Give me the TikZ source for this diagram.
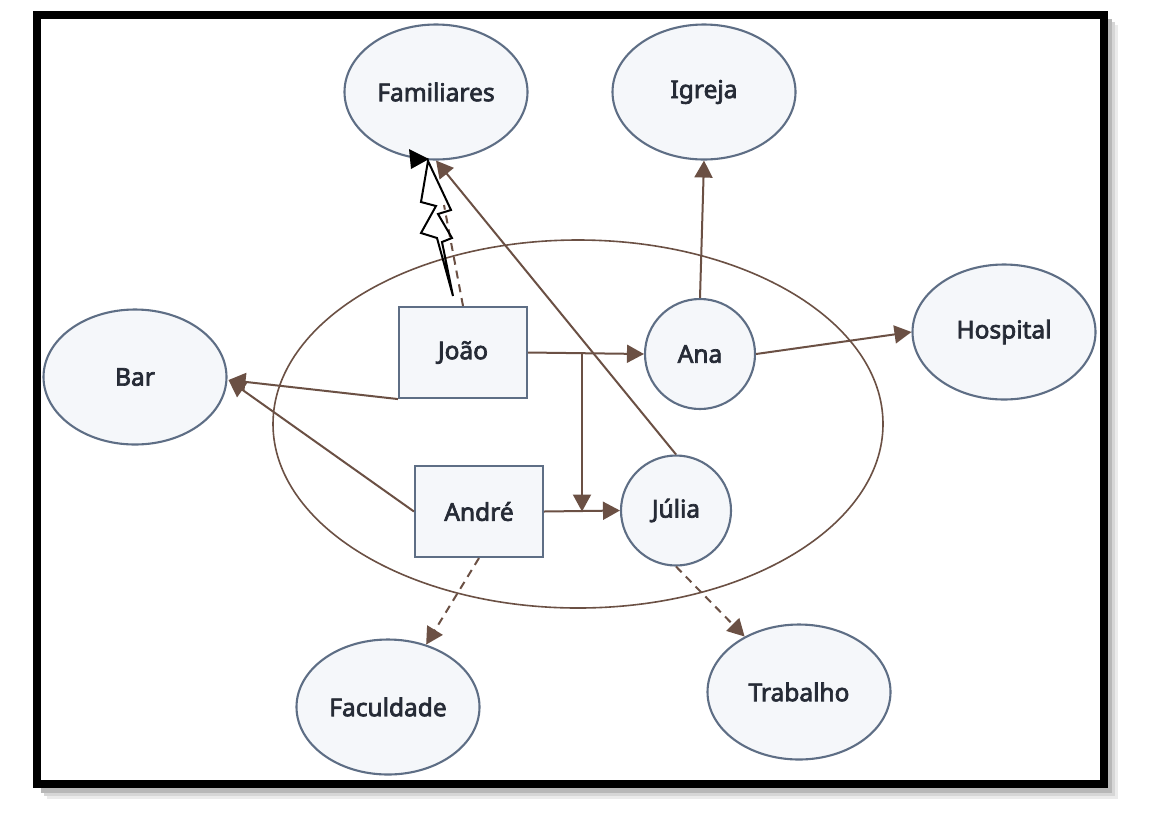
\documentclass[tikz,border=0pt]{standalone}
\usepackage{fontspec}
\newfontfamily\lbl{Noto Sans}
\newcommand\heavytext[1]{\special{pdf:literal direct 2 Tr 0.7 w}#1\special{pdf:literal direct 0 Tr}}
\usetikzlibrary{arrows.meta,shapes.geometric,calc}
\definecolor{conn}{HTML}{6B5044}
\definecolor{nborder}{HTML}{5E6E85}
\definecolor{nfill}{HTML}{F5F7FA}
\definecolor{ntext}{HTML}{262B36}
\tikzset{
  lbltext/.style={font=\lbl\fontsize{24.5}{28}\selectfont, text=ntext},
  place/.style={ellipse, draw=nborder, fill=nfill, line width=2.1pt,
    minimum width=183pt, minimum height=135pt, inner sep=0pt, lbltext},
  person/.style={circle, draw=nborder, fill=nfill, line width=2.1pt,
    minimum size=110pt, inner sep=0pt, lbltext},
  agent/.style={rectangle, draw=nborder, fill=nfill, line width=2.1pt,
    minimum width=128pt, minimum height=91pt, inner sep=0pt, lbltext},
  link/.style={draw=conn, line width=2pt, -{Triangle[length=17pt,width=18pt]}},
  weak/.style={link, dash pattern=on 8pt off 6pt},
  boltline/.style={draw=black, line width=2pt, line join=miter},
}
\begin{document}
\begin{tikzpicture}[x=1pt,y=-1pt]
\useasboundingbox (0,0) rectangle (1166,812);
% frame with shadow
\fill[black!8] (47,25) rectangle (1118,799);
\fill[black!16] (44,22) rectangle (1115,796);
\fill[black!28] (41,19) rectangle (1112,793);
\fill[white] (33,11) rectangle (1108,788);
\draw[line width=8pt] (37,15) rectangle (1104,784);

% group ellipse
\node[ellipse, draw=conn, line width=1.6pt, minimum width=610pt, minimum height=368pt, inner sep=0pt] (grupo) at (578,424) {};

% nodes
\node[place] (familiares) at (436,92) {\heavytext{Familiares}};
\node[place] (igreja) at (704,92) {\heavytext{Igreja}};
\node[place] (hospital) at (1004,332) {\heavytext{Hospital}};
\node[place] (bar) at (135,377) {\heavytext{Bar}};
\node[place] (faculdade) at (388,707) {\heavytext{Faculdade}};
\node[place] (trabalho) at (799,692) {\heavytext{Trabalho}};
\node[agent] (joao) at (463,352.5) {\heavytext{João}};
\node[agent] (andre) at (479,511.5) {\heavytext{André}};
\node[person] (ana) at (700,354) {\heavytext{Ana}};
\node[person] (julia) at (676,510.5) {\heavytext{Júlia}};

% connectors
\draw[link] (joao.east) -- (ana.west);
\coordinate (br) at (582,352.5);
\coordinate (bj) at (582,511.5);
\draw[link] (br) -- (bj);
\draw[link] (andre.east) -- (julia.west);
\draw[link] (ana.north) -- (igreja.south);
\draw[link] (ana.east) -- (hospital.west);
\coordinate (barin) at ($(bar.east)+(1,3)$);
\draw[link] (joao.south west) -- (barin);
\draw[link] (andre.west) -- (barin);
\draw[link] (julia.north) -- (familiares.south);
\draw[weak] (andre.south) -- (faculdade);
\draw[weak] (julia.south) -- (trabalho);

% dashed line from Joao toward Familiares, overlaid by the lightning bolt
\coordinate (boltend) at (444,205);
\draw[draw=conn, line width=2pt, dash pattern=on 8pt off 6pt] (joao.north) -- (boltend);

% lightning bolt
\draw[boltline] (428,161) -- (451,210) -- (438,214) -- (452,238) -- (442,242) -- (453,296)
  -- (437,238) -- (421,233) -- (436,206) -- (421,202) -- cycle;
\fill[black] (409,149) -- (411,169) -- (429,159) -- cycle;
\end{tikzpicture}
\end{document}
